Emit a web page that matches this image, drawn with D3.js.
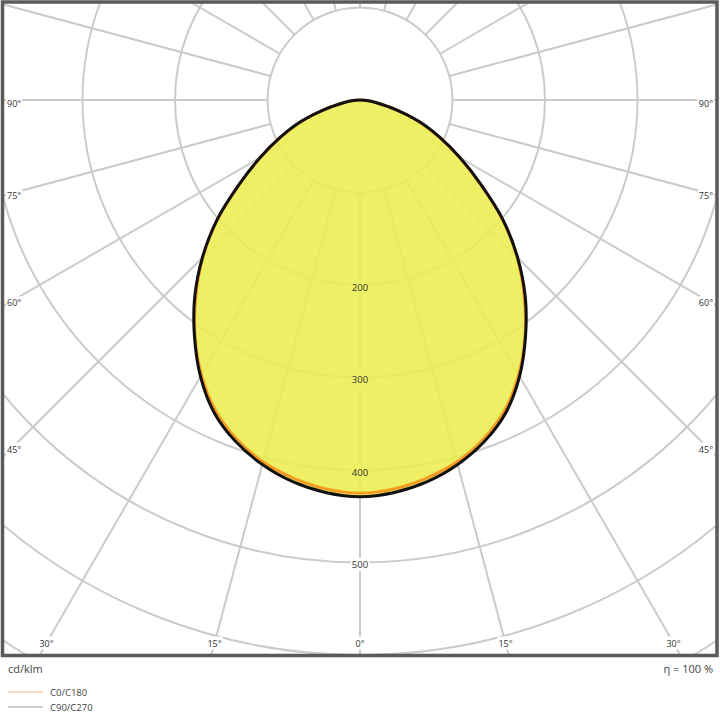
<!DOCTYPE html>
<html>
<head>
<meta charset="utf-8">
<script src="https://cdn.jsdelivr.net/npm/d3@7"></script>
<style>
  body { margin: 0; background: #fff; }
  text { font-family: "Open Sans", "DejaVu Sans", sans-serif; fill: #333; }
</style>
</head>
<body>
<div id="chart"></div>
<script>
// Gamma angles (deg from nadir) and intensities in cd/klm
const gammaAngles = [0, 5, 10, 15, 20, 25, 30, 35, 40, 45, 50, 55, 60, 65, 70, 75, 80, 85, 90];
const c0c180  = [425, 422, 415, 405, 390, 370, 343, 311, 276, 240, 201, 159, 124, 94, 67, 40, 19, 9, 0];
const c90c270 = [429, 426, 419, 408, 393, 373, 345, 312, 278, 241, 202, 160, 125, 95, 68, 40, 19, 9, 0];

// Grid rings, ring labels and angle labels
const ringValues = [100, 200, 300, 400, 500, 600, 700, 800];
const ringLabels = [200, 300, 400, 500];
const spokeAngles = [0, 15, 30, 45, 60, 75, 90, 105, 120, 135, 150, 165, 180, 195, 210, 225, 240, 255, 270, 285, 300, 315, 330, 345];
const sideLabels = [90, 75, 60, 45];
const bottomLabels = [30, 15, 0];
const legendNames = ["C0/C180", "C90/C270"];

const width = 720, height = 720;
const cx = 360, cy = 100;
const rad = Math.PI / 180;

const svg = d3.select("#chart").append("svg")
  .attr("width", width)
  .attr("height", height);

const r = d3.scaleLinear().domain([0, 100]).range([0, 92.5]);

svg.append("clipPath").attr("id", "frame-clip")
  .append("rect").attr("x", 3).attr("y", 3).attr("width", 714).attr("height", 652);

const plot = svg.append("g").attr("clip-path", "url(#frame-clip)");
const grid = plot.append("g").attr("transform", `translate(${cx},${cy})`);

// rings
grid.selectAll("circle")
  .data(ringValues)
  .join("circle")
  .attr("r", d => r(d))
  .attr("fill", "none")
  .attr("stroke", "#cbcbcb")
  .attr("stroke-width", 2);

// spokes (start at the 100 ring)
grid.selectAll("line")
  .data(spokeAngles)
  .join("line")
  .attr("x1", d => r(100) * Math.sin(d * rad))
  .attr("y1", d => r(100) * Math.cos(d * rad))
  .attr("x2", d => r(900) * Math.sin(d * rad))
  .attr("y2", d => r(900) * Math.cos(d * rad))
  .attr("stroke", "#cbcbcb")
  .attr("stroke-width", 2);

const boxLayer = plot.append("g");
const curves = plot.append("g").attr("transform", `translate(${cx},${cy})`);
const textLayer = plot.append("g");

// helper: text with white box behind (box goes under the fill, text over it)
function boxedLabel(x, y, txt, anchor, size) {
  const t = textLayer.append("text")
    .attr("x", x).attr("y", y)
    .attr("text-anchor", anchor)
    .attr("dominant-baseline", "central")
    .style("font-size", size + "px")
    .text(txt);
  const b = t.node().getBBox();
  boxLayer.append("rect")
    .attr("x", b.x - 1).attr("y", b.y)
    .attr("width", b.width + 2).attr("height", b.height)
    .attr("fill", "#fff");
}

// ring value labels
ringLabels.forEach(v => boxedLabel(cx, cy + r(v) + 2, v, "middle", 9.5));

// side angle labels
sideLabels.forEach(a => {
  const dy = 346 * Math.cos(a * rad) / Math.sin(a * rad);
  boxedLabel(7, cy + dy + 3, a + "°", "start", 9);
  boxedLabel(713, cy + dy + 3, a + "°", "end", 9);
});

// bottom angle labels
bottomLabels.forEach(a => {
  const dx = 543 * Math.tan(a * rad);
  boxedLabel(cx - dx, 643, a + "°", "middle", 9);
  if (a > 0) boxedLabel(cx + dx, 643, a + "°", "middle", 9);
});

// build a closed symmetric curve: left half (C180 / C270) then right half (C0 / C90)
function curvePoints(values) {
  const pts = [];
  for (let i = gammaAngles.length - 1; i > 0; i--) pts.push({ g: -gammaAngles[i], v: values[i] });
  for (let i = 0; i < gammaAngles.length - 1; i++) pts.push({ g: gammaAngles[i], v: values[i] });
  return pts;
}

const radial = d3.lineRadial()
  .angle(d => Math.PI - d.g * rad)
  .radius(d => r(d.v))
  .curve(d3.curveCatmullRomClosed.alpha(0.5));

curves.append("path")
  .attr("d", radial(curvePoints(c90c270)))
  .attr("fill", "#eaee4f")
  .attr("fill-opacity", 0.88)
  .attr("stroke", "none");

curves.append("path")
  .attr("d", radial(curvePoints(c0c180)))
  .attr("fill", "none")
  .attr("stroke", "#f39c1f")
  .attr("stroke-width", 3);

curves.append("path")
  .attr("d", radial(curvePoints(c90c270)))
  .attr("fill", "none")
  .attr("stroke", "#111")
  .attr("stroke-width", 3);

// frame
svg.append("rect")
  .attr("x", 2.5).attr("y", 2)
  .attr("width", 714.5).attr("height", 653.5)
  .attr("fill", "none")
  .attr("stroke", "#5a5a5a")
  .attr("stroke-width", 3.5);

// footer
svg.append("text").attr("x", 8).attr("y", 673)
  .style("font-size", "11px").style("fill", "#444").text("cd/klm");
svg.append("text").attr("x", 713).attr("y", 673)
  .attr("text-anchor", "end")
  .style("font-size", "11px").style("fill", "#444").text("η = 100 %");

// legend
const legendColors = ["#f5b98a", "#9a9a9a"];
const legend = svg.append("g");
legendNames.forEach((name, i) => {
  const y = 692 + i * 15;
  legend.append("line")
    .attr("x1", 8).attr("x2", 43)
    .attr("y1", y).attr("y2", y)
    .attr("stroke", legendColors[i])
    .attr("stroke-width", 1.2);
  legend.append("text")
    .attr("x", 50).attr("y", y)
    .attr("dominant-baseline", "central")
    .style("font-size", "9.5px").style("fill", "#444")
    .text(name);
});
</script>
</body>
</html>
